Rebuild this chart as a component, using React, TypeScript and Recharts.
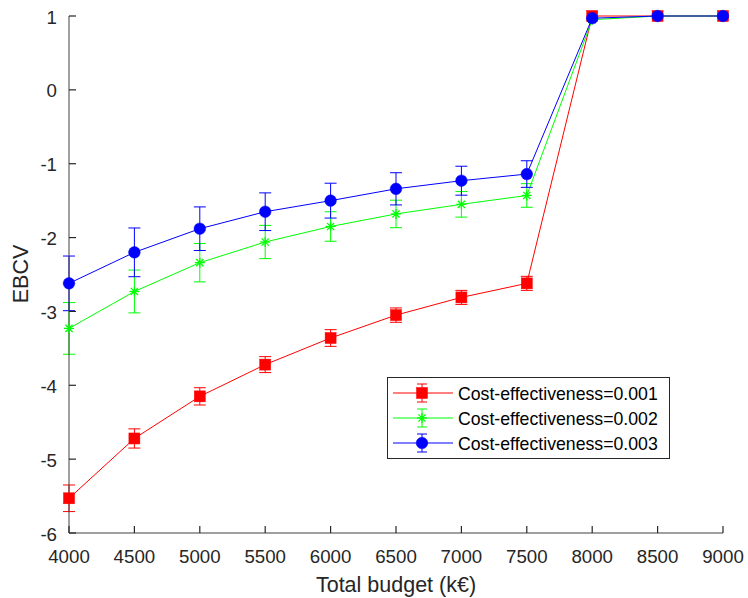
import React from 'react';
import { ComposedChart, Line, XAxis, YAxis, ErrorBar } from 'recharts';

const budgets = [4000, 4500, 5000, 5500, 6000, 6500, 7000, 7500, 8000, 8500, 9000];
const redValues = [-5.53, -4.72, -4.15, -3.72, -3.36, -3.05, -2.81, -2.62, 1.0, 1.0, 1.0];
const redErrors = [0.18, 0.13, 0.117, 0.108, 0.113, 0.097, 0.095, 0.095, 0, 0, 0];
const greenValues = [-3.23, -2.73, -2.34, -2.06, -1.85, -1.68, -1.55, -1.43, 0.95, 1.0, 1.0];
const greenErrors = [0.35, 0.29, 0.26, 0.225, 0.2, 0.186, 0.173, 0.16, 0, 0, 0];
const blueValues = [-2.62, -2.2, -1.88, -1.65, -1.5, -1.34, -1.23, -1.14, 0.97, 1.0, 1.0];
const blueErrors = [0.37, 0.33, 0.295, 0.255, 0.236, 0.218, 0.196, 0.18, 0, 0, 0];
const xTicks = [4000, 4500, 5000, 5500, 6000, 6500, 7000, 7500, 8000, 8500, 9000];
const yTicks = [-6, -5, -4, -3, -2, -1, 0, 1];
const seriesNames = ['Cost-effectiveness=0.001', 'Cost-effectiveness=0.002', 'Cost-effectiveness=0.003'];
const xLabel = 'Total budget (k€)';
const yLabel = 'EBCV';

const data = budgets.map((b, i) => ({
  x: b,
  r: redValues[i], er: redErrors[i],
  g: greenValues[i], eg: greenErrors[i],
  b: blueValues[i], eb: blueErrors[i],
}));

const W = 748;
const H = 598;
const PL = 69;
const PT = 16;
const PR = 723;
const PB = 533;
const FONT = '"Liberation Sans", Arial, sans-serif';
const FS = 18.7;
const LFS = 21.5;
const GFS = 17.7;
const AX = '#262626';
const TL = 7;

const RED = '#ff0000';
const GREEN = '#00ff00';
const BLUE = '#0000ff';

const Square = ({ cx, cy, color }: any) => (
  <rect x={cx - 5.5} y={cy - 5.5} width={11} height={11} fill={color} stroke={color} strokeWidth={0.5} />
);
const Circle = ({ cx, cy, color }: any) => (
  <circle cx={cx} cy={cy} r={5.8} fill={color} stroke={color} strokeWidth={0.5} />
);
const Star = ({ cx, cy, color }: any) => {
  const s = 5;
  const d = 3.6;
  return (
    <g stroke={color} strokeWidth={1.3}>
      <line x1={cx - s} y1={cy} x2={cx + s} y2={cy} />
      <line x1={cx} y1={cy - s} x2={cx} y2={cy + s} />
      <line x1={cx - d} y1={cy - d} x2={cx + d} y2={cy + d} />
      <line x1={cx - d} y1={cy + d} x2={cx + d} y2={cy - d} />
    </g>
  );
};

const BottomTick = (props: any) => {
  const { x, payload } = props;
  return (
    <g>
      <line x1={x} y1={PB} x2={x} y2={PB - TL} stroke={AX} strokeWidth={1.2} />
      <text x={x} y={PB + 23} textAnchor="middle" dominantBaseline="central" fontFamily={FONT} fontSize={FS} fill={AX}>
        {payload.value}
      </text>
    </g>
  );
};
const TopTick = (props: any) => {
  const { x } = props;
  return <line x1={x} y1={PT} x2={x} y2={PT + TL} stroke={AX} strokeWidth={1.2} />;
};
const LeftTick = (props: any) => {
  const { y, payload } = props;
  return (
    <g>
      <line x1={PL} y1={y} x2={PL + TL} y2={y} stroke={AX} strokeWidth={1.2} />
      <text x={PL - 12} y={y + 1} textAnchor="end" dominantBaseline="central" fontFamily={FONT} fontSize={FS} fill={AX}>
        {payload.value}
      </text>
    </g>
  );
};
const RightTick = (props: any) => {
  const { y } = props;
  return <line x1={PR} y1={y} x2={PR - TL} y2={y} stroke={AX} strokeWidth={1.2} />;
};

const XLabel = () => (
  <text x={396} y={592} textAnchor="middle" fontFamily={FONT} fontSize={LFS} fill={AX}>
    {xLabel}
  </text>
);
const YLabel = () => (
  <text x={21} y={274} textAnchor="middle" dominantBaseline="central" fontFamily={FONT} fontSize={LFS} fill={AX}
    transform="rotate(-90 21 274)">
    {yLabel}
  </text>
);

const LegendBox = () => {
  const items = [
    { name: seriesNames[0], color: RED, kind: 'square' },
    { name: seriesNames[1], color: GREEN, kind: 'star' },
    { name: seriesNames[2], color: BLUE, kind: 'circle' },
  ];
  const rows = [16, 41, 66];
  return (
    <svg width={283} height={82} style={{ position: 'absolute', left: 387, top: 377 }}>
      <rect x={0.5} y={0.5} width={282} height={81} fill="#ffffff" stroke={AX} strokeWidth={1} />
      {items.map((it, i) => {
        const y = rows[i];
        const cx = 35;
        return (
          <g key={it.name}>
            <line x1={6} y1={y} x2={66} y2={y} stroke={it.color} strokeWidth={1} />
            <line x1={cx} y1={y - 9} x2={cx} y2={y + 9} stroke={it.color} strokeWidth={1} />
            <line x1={cx - 5} y1={y - 9} x2={cx + 5} y2={y - 9} stroke={it.color} strokeWidth={1} />
            <line x1={cx - 5} y1={y + 9} x2={cx + 5} y2={y + 9} stroke={it.color} strokeWidth={1} />
            {it.kind === 'square' && <Square cx={cx} cy={y} color={it.color} />}
            {it.kind === 'star' && <Star cx={cx} cy={y} color={it.color} />}
            {it.kind === 'circle' && <Circle cx={cx} cy={y} color={it.color} />}
            <text x={71} y={y + 1} dominantBaseline="central" fontFamily={FONT} fontSize={GFS} fill="#000000">
              {it.name}
            </text>
          </g>
        );
      })}
    </svg>
  );
};

export default function App() {
  return (
    <div style={{ position: 'absolute', left: 0, top: 0, width: W, height: H, background: '#ffffff' }}>
      <ComposedChart width={W} height={H} data={data} margin={{ top: PT, right: W - PR, bottom: 0, left: 0 }}>
        <XAxis dataKey="x" type="number" domain={[4000, 9000]} ticks={xTicks}
          height={H - PB} axisLine={{ stroke: '#404040', strokeWidth: 1 }} tickLine={false} tick={<BottomTick />}
          interval={0} label={<XLabel />} />
        <XAxis xAxisId="top" dataKey="x" type="number" orientation="top" domain={[4000, 9000]} ticks={xTicks}
          height={0} axisLine={{ stroke: '#404040', strokeWidth: 1 }} tickLine={false}
          tick={<TopTick />} interval={0} />
        <YAxis type="number" domain={[-6, 1]} ticks={yTicks} width={PL}
          axisLine={{ stroke: '#404040', strokeWidth: 1 }} tickLine={false} tick={<LeftTick />} interval={0}
          label={<YLabel />} />
        <YAxis yAxisId="right" type="number" orientation="right" domain={[-6, 1]} ticks={yTicks}
          width={0} axisLine={{ stroke: '#404040', strokeWidth: 1 }} tickLine={false} tick={<RightTick />}
          interval={0} />
        <Line dataKey="r" stroke={RED} strokeWidth={1} isAnimationActive={false}
          dot={(p: any) => <Square key={`r${p.index}`} cx={p.cx} cy={p.cy} color={RED} />} activeDot={false}>
          <ErrorBar dataKey="er" direction="y" width={6} stroke={RED} strokeWidth={1} isAnimationActive={false} />
        </Line>
        <Line dataKey="g" stroke={GREEN} strokeWidth={1} isAnimationActive={false}
          dot={(p: any) => <Star key={`g${p.index}`} cx={p.cx} cy={p.cy} color={GREEN} />} activeDot={false}>
          <ErrorBar dataKey="eg" direction="y" width={6} stroke={GREEN} strokeWidth={1} isAnimationActive={false} />
        </Line>
        <Line dataKey="b" stroke={BLUE} strokeWidth={1} isAnimationActive={false}
          dot={(p: any) => <Circle key={`b${p.index}`} cx={p.cx} cy={p.cy} color={BLUE} />} activeDot={false}>
          <ErrorBar dataKey="eb" direction="y" width={6} stroke={BLUE} strokeWidth={1} isAnimationActive={false} />
        </Line>
      </ComposedChart>
      <LegendBox />
    </div>
  );
}
